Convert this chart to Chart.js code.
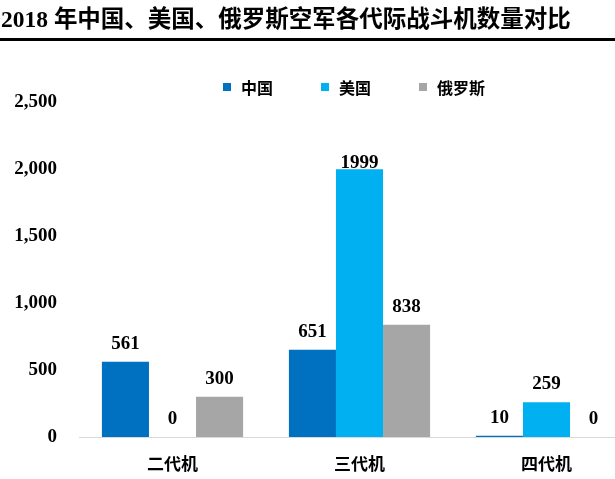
<!DOCTYPE html>
<html>
<head>
<meta charset="utf-8">
<script src="https://cdn.jsdelivr.net/npm/chart.js@4"></script>
<style>
  html, body { margin: 0; padding: 0; overflow: hidden; background: #fff; }
  #wrap { position: relative; width: 640px; height: 479px; }
  #title {
    position: absolute; left: 0; top: 0; width: 615px; height: 38px;
    border-bottom: 3px solid #000;
    font: bold 23.5px "Liberation Serif", "Noto Sans CJK SC", serif;
    line-height: 38px; padding-left: 1px; box-sizing: content-box;
  }
  #legend {
    position: absolute; top: 77px; left: 223px; height: 20px;
    display: flex; align-items: center;
    font: bold 16px "Noto Sans CJK SC", sans-serif;
  }
  #legend span.box { display: inline-block; width: 8px; height: 8px; margin-right: 10px; }
  #legend .item { display: flex; align-items: center; margin-right: 48px; }
  canvas { position: absolute; left: 0; top: 0; }
</style>
</head>
<body>
<div id="wrap">
  <canvas id="chart" width="640" height="479"></canvas>
  <div id="title">2018 年中国、美国、俄罗斯空军各代际战斗机数量对比</div>
  <div id="legend"></div>
</div>
<script>
// data
var categories = ["二代机", "三代机", "四代机"];
var seriesNames = ["中国", "美国", "俄罗斯"];
var china = [561, 651, 10];
var usa = [0, 1999, 259];
var russia = [300, 838, 0];
var yTicks = [0, 500, 1000, 1500, 2000, 2500];

var colors = ["#0070C0", "#00B0F0", "#A6A6A6"];
var numFont = '"Liberation Serif", "Noto Sans CJK SC", serif';

// legend
var legend = document.getElementById("legend");
seriesNames.forEach(function (name, i) {
  var item = document.createElement("div");
  item.className = "item";
  item.innerHTML = '<span class="box" style="background:' + colors[i] + '"></span>' + name;
  legend.appendChild(item);
});

// value labels above bars
var valueLabels = {
  id: "valueLabels",
  afterDatasetsDraw: function (chart) {
    var ctx = chart.ctx;
    ctx.save();
    ctx.font = "bold 19px " + numFont;
    ctx.fillStyle = "#000";
    ctx.textAlign = "center";
    ctx.textBaseline = "middle";
    chart.data.datasets.forEach(function (ds, i) {
      chart.getDatasetMeta(i).data.forEach(function (bar, j) {
        var v = ds.data[j];
        var off = v > 1900 ? 6 : 18;
        ctx.fillText(String(v), bar.x, bar.y - off);
      });
    });
    ctx.restore();
  }
};

new Chart(document.getElementById("chart").getContext("2d"), {
  type: "bar",
  data: {
    labels: categories,
    datasets: [
      { label: seriesNames[0], data: china, backgroundColor: colors[0] },
      { label: seriesNames[1], data: usa, backgroundColor: colors[1] },
      { label: seriesNames[2], data: russia, backgroundColor: colors[2] },
    ],
  },
  options: {
    responsive: false,
    animation: false,
    maintainAspectRatio: false,
    layout: { padding: { top: 102, left: 0, right: 0, bottom: 0 } },
    datasets: { bar: { categoryPercentage: 0.755, barPercentage: 1 } },
    scales: {
      x: {
        grid: { display: false, drawTicks: false },
        border: { display: true, color: "#D9D9D9", width: 1 },
        ticks: {
          padding: 16,
          color: "#000",
          font: { family: '"Noto Sans CJK SC", sans-serif', size: 17, weight: "bold" },
        },
        afterFit: function (scale) { scale.height = 42; },
      },
      y: {
        min: 0,
        max: 2500,
        afterBuildTicks: function (scale) {
          scale.ticks = yTicks.map(function (v) { return { value: v }; });
        },
        grid: { display: false, drawTicks: false },
        border: { display: false },
        ticks: {
          padding: 22,
          color: "#000",
          font: { family: numFont, size: 19, weight: "bold" },
          callback: function (v) { return v.toLocaleString("en-US"); },
        },
        afterFit: function (scale) { scale.width = 79; },
      },
    },
    plugins: {
      legend: { display: false },
      tooltip: { enabled: false },
    },
  },
  plugins: [valueLabels],
});
</script>
</body>
</html>
